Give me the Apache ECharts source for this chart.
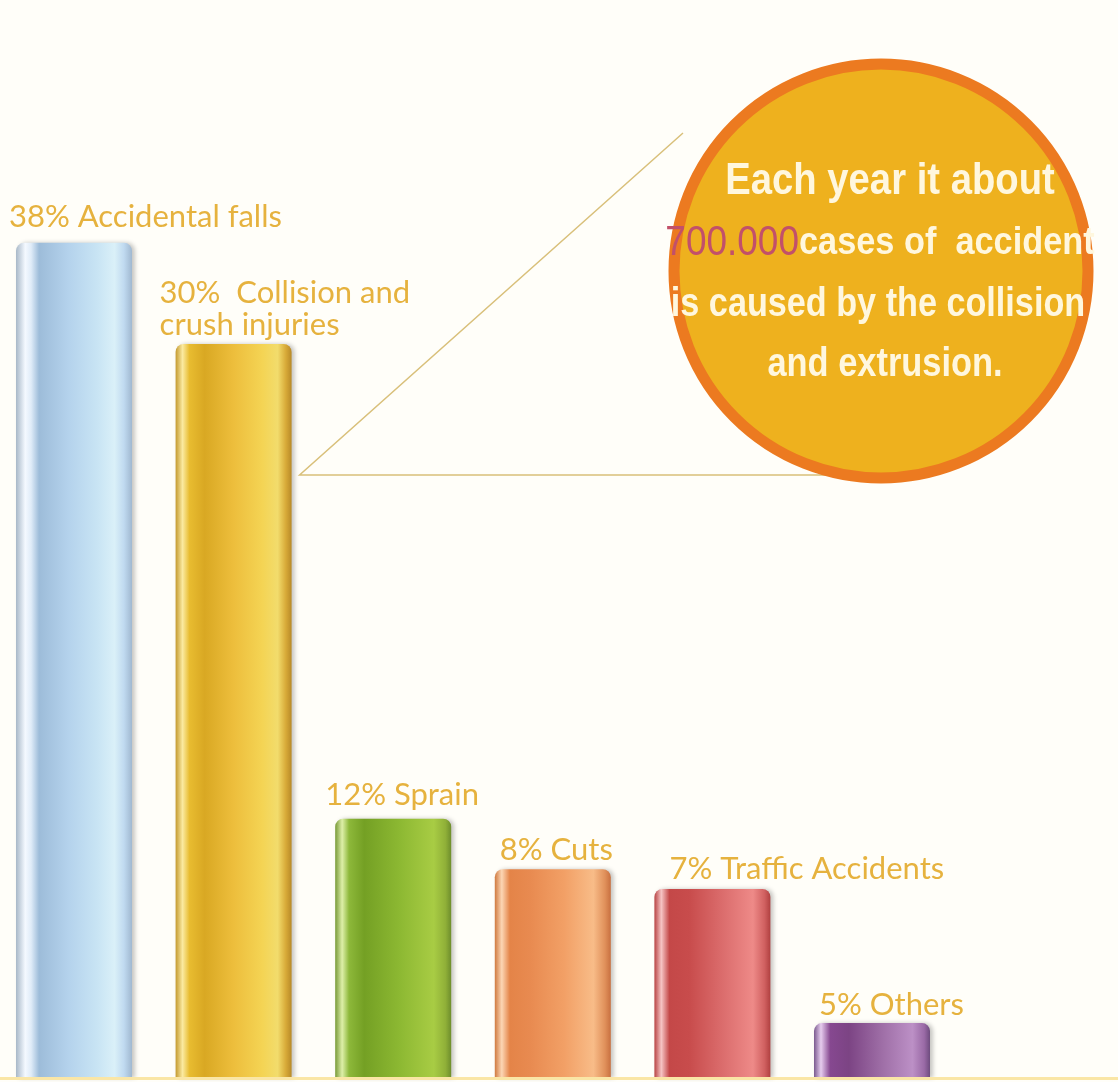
<!DOCTYPE html>
<html>
<head>
<meta charset="utf-8">
<script src="https://cdn.jsdelivr.net/npm/echarts@6/dist/echarts.min.js"></script>
<style>
html,body{margin:0;padding:0;background:#FFFEF9;}
#chart{width:1118px;height:1082px;}
</style>
</head>
<body>
<div id="chart"></div>
<script>
// ---- data ----
const categories = ['Accidental falls', 'Collision and\ncrush injuries', 'Sprain', 'Cuts', 'Traffic Accidents', 'Others'];
const shares = [38, 30, 12, 8, 7, 5];               // percentages written on the chart
const barHeights = [38, 33.4, 11.8, 9.5, 8.6, 2.5]; // bar heights as drawn in the picture (same % scale)

// ---- styles ----
const labelOffsets = [[-7, -10], [-16, -3], [-10, -8], [5, -3], [15, -4], [5, -2]];
const gradStops = [
  [['#A8B8C8',0],['#F4F9FF',0.08],['#E0ECF8',0.13],['#9DBCD9',0.2],['#B4D2EC',0.45],['#C8E4F4',0.7],['#DAF0F8',0.85],['#C0DAF0',0.93],['#A0B8D0',1]],
  [['#C49A30',0],['#FBEAA0',0.06],['#E8BC30',0.12],['#D9A823',0.25],['#EDBE3C',0.5],['#F4D454',0.75],['#F2DC6C',0.88],['#D8AA38',0.95],['#B88A28',1]],
  [['#789A38',0],['#DDEFA8',0.06],['#8DB83A',0.12],['#74A024',0.25],['#8CB832',0.55],['#A8CC44',0.85],['#90B038',0.95],['#6E8E2C',1]],
  [['#D07A40',0],['#FCD6B4',0.06],['#E48448',0.13],['#E88A50',0.3],['#F2A066',0.6],['#F8BC88',0.85],['#E0905A',0.95],['#C87040',1]],
  [['#B84444',0],['#F6C4C4',0.06],['#C44848',0.13],['#C84C4C',0.3],['#DC6E6E',0.6],['#EE8A88',0.85],['#D06060',0.95],['#B04040',1]],
  [['#7A5A8E',0],['#E6CCEE',0.06],['#864890',0.14],['#7C4484',0.3],['#A070A8',0.6],['#BC90C6',0.85],['#9A6AA6',0.95],['#6E4C7E',1]]
];
function grad(stops){
  return {type:'linear',x:0,y:0,x2:1,y2:0,colorStops:stops.map(s=>({color:s[0],offset:s[1]}))};
}

const chart = echarts.init(document.getElementById('chart'), null, {renderer:'canvas'});
const BAR_W = 116;
const option = {
  backgroundColor: '#FFFEF9',
  animation: false,
  grid: {left: 74, width: 798, top: 89, bottom: 4},
  xAxis: {
    type: 'category',
    data: categories,
    boundaryGap: false,
    axisLine: {show: false},
    axisTick: {show: false},
    axisLabel: {show: false},
    splitLine: {show: false}
  },
  yAxis: {
    type: 'value', min: 0, max: 45,
    axisLine: {show:false}, axisTick:{show:false}, axisLabel:{show:false},
    splitLine: {show:false}
  },
  series: [{
    type: 'bar',
    barWidth: BAR_W,
    clip: false,
    data: barHeights.map((v, i) => ({
      value: v,
      itemStyle: {
        color: grad(gradStops[i]),
        borderRadius: [8, 8, 0, 0],
        shadowColor: 'rgba(0,0,0,0.22)',
        shadowBlur: 4,
        shadowOffsetX: 3
      },
      label: {
        show: true,
        position: labelOffsets[i],
        align: 'left',
        verticalAlign: 'bottom',
        formatter: shares[i] + '%' + (i === 1 ? '  ' : ' ') + categories[i],
        color: '#E6B23E',
        fontFamily: 'Lato',
        fontSize: 31,
        lineHeight: 32
      }
    }))
  }]
};
chart.setOption(option);

// callout decoration (circle + pointer lines) and baseline strip
const p = chart.convertToPixel({xAxisIndex:0, yAxisIndex:0}, [1, 0]);
const base = p[1];
const apexX = p[0] + BAR_W / 2 + 8;
const textFont = "'Liberation Sans', Arial, sans-serif";
const cream = '#FFF7DE';
chart.setOption({
  graphic: [
    {type:'rect', z:20, shape:{x:0, y:base - 1, width:1118, height:3}, style:{fill:'#FAE6A6'}},
    {type:'polyline', z:10, shape:{points:[[683,133],[apexX,475],[893,475]]},
     style:{stroke:'#D9C07A', lineWidth:1.5, fill:null}},
    {type:'circle', z:11, shape:{cx:881, cy:271, r:207},
     style:{fill:'#EEB11E', stroke:'#EC7A20', lineWidth:11}},
    {type:'text', z:12, x:890, y:182, scaleX:0.85,
     style:{text:'Each year it about', fill:cream, font:"bold 45px " + textFont, align:'center', verticalAlign:'middle'}},
    {type:'text', z:12, x:880, y:243, scaleX:0.88,
     style:{text:'{r|700.000}{w|cases of  accident}', align:'center', verticalAlign:'middle',
       rich:{
         r:{fill:'#C2506A', font:"42px " + textFont},
         w:{fill:cream, font:"bold 39px " + textFont}
       }}},
    {type:'text', z:12, x:878, y:305, scaleX:0.855,
     style:{text:'is caused by the collision', fill:cream, font:"bold 40px " + textFont, align:'center', verticalAlign:'middle'}},
    {type:'text', z:12, x:885, y:365, scaleX:0.86,
     style:{text:'and extrusion.', fill:cream, font:"bold 40px " + textFont, align:'center', verticalAlign:'middle'}}
  ]
});
</script>
</body>
</html>
